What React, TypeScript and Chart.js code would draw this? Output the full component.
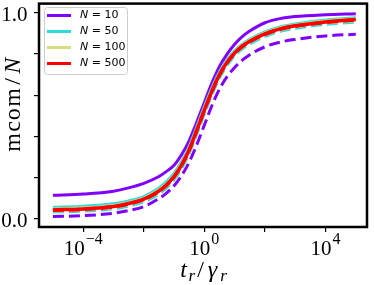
import React, { useEffect, useRef } from "react";
import { Chart, registerables } from "chart.js";

Chart.register(...registerables);

// t_r / gamma_r sample positions
const T_VALUES = [1e-5, 1e-4, 1e-3, 3.16e-3, 1e-2, 3.16e-2, 5.62e-2, 0.1, 0.178, 0.316, 0.562, 1, 1.78, 3.16, 5.62, 10, 17.8, 31.6, 100, 316, 1e3, 1e4, 1e5];

// mcom / N values
const N10_SOLID = [0.114, 0.12, 0.134, 0.15, 0.172, 0.205, 0.23, 0.26, 0.312, 0.38, 0.47, 0.565, 0.66, 0.74, 0.8, 0.848, 0.885, 0.912, 0.952, 0.972, 0.982, 0.991, 0.996];
const N10_DASHED = [0.011, 0.015, 0.027, 0.04, 0.059, 0.098, 0.125, 0.16, 0.21, 0.275, 0.36, 0.455, 0.55, 0.63, 0.69, 0.735, 0.77, 0.797, 0.835, 0.858, 0.871, 0.888, 0.896];
const N50_SOLID = [0.056, 0.061, 0.073, 0.087, 0.108, 0.149, 0.18, 0.22, 0.278, 0.352, 0.447, 0.545, 0.636, 0.714, 0.772, 0.816, 0.848, 0.872, 0.908, 0.932, 0.946, 0.965, 0.976];
const N50_DASHED = [0.033, 0.037, 0.048, 0.062, 0.082, 0.121, 0.15, 0.19, 0.246, 0.318, 0.412, 0.51, 0.603, 0.685, 0.746, 0.792, 0.825, 0.849, 0.886, 0.91, 0.925, 0.944, 0.955];
const N100_SOLID = [0.048, 0.053, 0.065, 0.079, 0.1, 0.141, 0.171, 0.211, 0.268, 0.342, 0.437, 0.535, 0.627, 0.706, 0.765, 0.81, 0.843, 0.867, 0.903, 0.927, 0.941, 0.96, 0.971];
const N100_DASHED = [0.038, 0.043, 0.055, 0.069, 0.09, 0.13, 0.16, 0.199, 0.256, 0.328, 0.423, 0.521, 0.613, 0.694, 0.755, 0.8, 0.833, 0.857, 0.893, 0.917, 0.932, 0.951, 0.962];
const N500_SOLID = [0.043, 0.048, 0.06, 0.074, 0.095, 0.135, 0.165, 0.205, 0.262, 0.335, 0.43, 0.528, 0.62, 0.7, 0.76, 0.805, 0.838, 0.862, 0.898, 0.922, 0.937, 0.956, 0.968];
const N500_DASHED = [0.041, 0.046, 0.058, 0.072, 0.093, 0.133, 0.163, 0.203, 0.26, 0.333, 0.428, 0.526, 0.618, 0.698, 0.758, 0.803, 0.836, 0.86, 0.896, 0.92, 0.935, 0.954, 0.966];

const N_LABELS = ["10", "50", "100", "500"];
const COLORS = ["#8000ff", "#2adddd", "#d4dd80", "#ff0000"];

const Y_TICKS = [0, 0.2, 0.4, 0.6, 0.8, 1.0];
const Y_TICK_LABELS = ["0.0", "", "", "", "", "1.0"];
const X_TICKS = [1e-4, 1e-2, 1, 1e2, 1e4];
const X_TICK_BASE = ["10", "", "10", "", "10"];
const X_TICK_EXP = ["\u22124", "", "0", "", "4"];

const SERIF = '"Liberation Serif", "DejaVu Serif", serif';
const SANS = '"DejaVu Sans", sans-serif';

export default function App() {
  const ref = useRef<HTMLCanvasElement>(null);

  useEffect(() => {
    const canvas = ref.current;
    if (!canvas) return;

    const mk = (vals: number[], color: string, width: number, dashed: boolean, order: number) => ({
      data: T_VALUES.map((t, i) => ({ x: t, y: vals[i] })),
      borderColor: color,
      backgroundColor: color,
      borderWidth: width,
      borderDash: dashed ? [11, 5] : [],
      pointRadius: 0,
      cubicInterpolationMode: "monotone" as const,
      fill: false,
      order,
    });

    // draw characters spread over given slot widths (mimics math-text spacing)
    const drawSlots = (ctx: any, items: [string, string, number, number][], x0: number, y0: number) => {
      let x = x0;
      items.forEach(([s, font, slot, dy]) => {
        ctx.font = font;
        const w = ctx.measureText(s).width;
        ctx.fillText(s, x + (slot - w) / 2, y0 + dy);
        x += slot;
      });
    };

    const decor = {
      id: "decor",
      afterDatasetsDraw(chart: any) {
        const { ctx, chartArea } = chart;
        ctx.save();
        ctx.strokeStyle = "#000";
        ctx.lineWidth = 2.5;
        ctx.strokeRect(chartArea.left, chartArea.top, chartArea.right - chartArea.left, chartArea.bottom - chartArea.top);
        ctx.restore();
      },
      afterDraw(chart: any) {
        const { ctx } = chart;
        const xs = chart.scales.x;
        const ys = chart.scales.y;
        ctx.save();
        ctx.fillStyle = "#000";
        ctx.textBaseline = "alphabetic";

        // y tick labels
        ctx.textAlign = "right";
        ctx.font = `21px ${SERIF}`;
        Y_TICKS.forEach((v, i) => {
          if (!Y_TICK_LABELS[i]) return;
          ctx.fillText(Y_TICK_LABELS[i], 27.5, ys.getPixelForValue(v) + 8);
        });
        ctx.textAlign = "left";

        // x tick labels with superscripts
        X_TICKS.forEach((v, i) => {
          if (!X_TICK_BASE[i]) return;
          const px = xs.getPixelForValue(v);
          ctx.font = `21px ${SERIF}`;
          const wb = ctx.measureText(X_TICK_BASE[i]).width + 1;
          ctx.font = `16px ${SERIF}`;
          const we = ctx.measureText(X_TICK_EXP[i]).width;
          const start = px - (wb + we) / 2;
          ctx.font = `21px ${SERIF}`;
          ctx.fillText(X_TICK_BASE[i], start, 255);
          ctx.font = `16px ${SERIF}`;
          ctx.fillText(X_TICK_EXP[i], start + wb, 244);
        });

        // x title: t_r / gamma_r
        const it = `italic 24px ${SERIF}`;
        const sub = `italic 17px ${SERIF}`;
        const rm = `24px ${SERIF}`;
        drawSlots(
          ctx,
          [
            ["t", it, 9, 0],
            ["r", sub, 7.5, 4],
            ["/", rm, 10, 0],
            ["\u03b3", it, 14, 0],
            ["r", sub, 8, 4],
          ],
          179,
          277
        );

        // y title: mcom/N
        ctx.save();
        ctx.translate(20, 153);
        ctx.rotate(-Math.PI / 2);
        const yr = `24px ${SERIF}`;
        drawSlots(
          ctx,
          [
            ["m", yr, 21, 0],
            ["c", yr, 11.4, 0],
            ["o", yr, 12.8, 0],
            ["m", yr, 21, 0],
            ["/", yr, 11, 0],
            ["N", `italic 24px ${SERIF}`, 20, 0],
          ],
          0,
          0
        );
        ctx.restore();

        // legend
        const lx = 44.5, ly = 7.5, lw = 83, lh = 67, r = 3;
        ctx.beginPath();
        ctx.moveTo(lx + r, ly);
        ctx.lineTo(lx + lw - r, ly);
        ctx.quadraticCurveTo(lx + lw, ly, lx + lw, ly + r);
        ctx.lineTo(lx + lw, ly + lh - r);
        ctx.quadraticCurveTo(lx + lw, ly + lh, lx + lw - r, ly + lh);
        ctx.lineTo(lx + r, ly + lh);
        ctx.quadraticCurveTo(lx, ly + lh, lx, ly + lh - r);
        ctx.lineTo(lx, ly + r);
        ctx.quadraticCurveTo(lx, ly, lx + r, ly);
        ctx.closePath();
        ctx.fillStyle = "rgba(255,255,255,0.8)";
        ctx.fill();
        ctx.strokeStyle = "#cccccc";
        ctx.lineWidth = 1;
        ctx.stroke();

        N_LABELS.forEach((lab, i) => {
          const yy = 15.5 + i * 16;
          ctx.strokeStyle = COLORS[i];
          ctx.lineWidth = 3;
          ctx.beginPath();
          ctx.moveTo(47, yy);
          ctx.lineTo(71, yy);
          ctx.stroke();
          ctx.fillStyle = "#000";
          ctx.textBaseline = "middle";
          ctx.font = `italic 11px ${SANS}`;
          ctx.fillText("N", 80, yy);
          const wn = ctx.measureText("N").width;
          ctx.font = `11px ${SANS}`;
          ctx.fillText(" = " + lab, 80 + wn, yy);
        });
        ctx.restore();
      },
    };

    const chart = new Chart(canvas, {
      type: "line",
      data: {
        datasets: [
          mk(N10_SOLID, COLORS[0], 3, false, 8),
          mk(N10_DASHED, COLORS[0], 3, true, 7),
          mk(N50_SOLID, COLORS[1], 3, false, 6),
          mk(N50_DASHED, COLORS[1], 3, true, 5),
          mk(N100_SOLID, COLORS[2], 3, false, 4),
          mk(N100_DASHED, COLORS[2], 3, true, 3),
          mk(N500_SOLID, COLORS[3], 3.5, false, 2),
          mk(N500_DASHED, COLORS[3], 3.5, true, 1),
        ] as any,
      },
      options: {
        responsive: false,
        animation: false,
        layout: { padding: { left: 0, right: 7, top: 2, bottom: 0 } },
        plugins: { legend: { display: false }, tooltip: { enabled: false } },
        scales: {
          x: {
            type: "logarithmic",
            min: Math.pow(10, -5.46),
            max: Math.pow(10, 5.37),
            border: { display: false },
            grid: { drawOnChartArea: false, drawTicks: true, tickLength: 5, color: "#000", lineWidth: 1.2 },
            ticks: { callback: () => "", autoSkip: false, maxRotation: 0, font: { size: 1 } },
            afterBuildTicks: (scale: any) => {
              scale.ticks = X_TICKS.map((v) => ({ value: v }));
            },
            afterFit: (scale: any) => {
              scale.height = 58;
            },
          },
          y: {
            type: "linear",
            min: -0.04,
            max: 1.045,
            border: { display: false },
            grid: { drawOnChartArea: false, drawTicks: true, tickLength: 5, color: "#000", lineWidth: 1.2 },
            ticks: { callback: () => "", autoSkip: false, font: { size: 1 } },
            afterBuildTicks: (scale: any) => {
              scale.ticks = Y_TICKS.map((v) => ({ value: v }));
            },
            afterFit: (scale: any) => {
              scale.width = 39;
            },
          },
        },
      },
      plugins: [decor],
    });

    return () => chart.destroy();
  }, []);

  return (
    <div style={{ position: "absolute", left: 0, top: 0, width: 374, height: 285, background: "#fff" }}>
      <canvas ref={ref} width={374} height={285} style={{ display: "block", width: 374, height: 285 }} />
    </div>
  );
}
